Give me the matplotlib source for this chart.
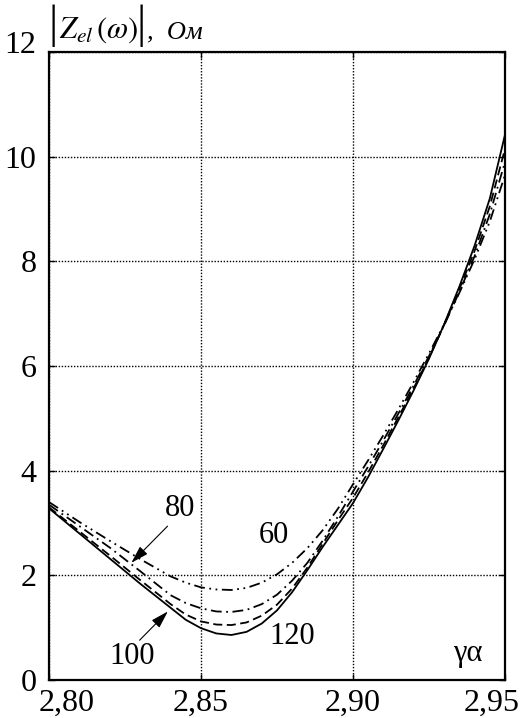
import matplotlib
matplotlib.use("Agg")
import matplotlib.pyplot as plt
from matplotlib.transforms import ScaledTranslation

plt.rcParams['font.family'] = ['Liberation Serif', 'DejaVu Serif']
plt.rcParams['mathtext.fontset'] = 'stix'

# ---- data ----
gamma_alpha = [2.800, 2.810, 2.820, 2.830, 2.840, 2.845, 2.850, 2.855, 2.860,
               2.865, 2.870, 2.875, 2.880, 2.885, 2.890, 2.895, 2.900, 2.905,
               2.910, 2.915, 2.920, 2.925, 2.930, 2.935, 2.940, 2.945, 2.950]
z_120 = [3.28, 2.80, 2.32, 1.84, 1.38, 1.15, 0.99, 0.89, 0.86, 0.92, 1.08, 1.33,
         1.68, 2.10, 2.54, 2.96, 3.38, 3.88, 4.42, 4.97, 5.54, 6.14, 6.80, 7.52,
         8.30, 9.20, 10.42]
z_100 = [3.30, 2.84, 2.38, 1.91, 1.45, 1.25, 1.12, 1.06, 1.05, 1.10, 1.23, 1.44,
         1.75, 2.15, 2.60, 3.05, 3.48, 3.97, 4.49, 5.03, 5.58, 6.16, 6.79, 7.47,
         8.20, 9.05, 10.15]
z_80 = [3.35, 2.94, 2.53, 2.08, 1.62, 1.47, 1.37, 1.31, 1.30, 1.34, 1.45, 1.63,
        1.90, 2.24, 2.66, 3.12, 3.60, 4.08, 4.58, 5.10, 5.63, 6.19, 6.78, 7.42,
        8.10, 8.90, 9.90]
z_60 = [3.40, 3.02, 2.66, 2.31, 1.98, 1.86, 1.77, 1.73, 1.72, 1.76, 1.86, 2.02,
        2.24, 2.52, 2.86, 3.27, 3.74, 4.20, 4.68, 5.18, 5.70, 6.24, 6.80, 7.40,
        8.04, 8.76, 9.65]

x_ticks = [2.80, 2.85, 2.90, 2.95]
x_ticklabels = ['2,80', '2,85', '2,90', '2,95']
y_ticks = [0, 2, 4, 6, 8, 10, 12]
y_ticklabels = ['0', '2', '4', '6', '8', '10', '12']

fig = plt.figure(figsize=(5.23, 7.18), dpi=100)
ax = fig.add_axes([49/523, 1-680/718, (505-49)/523, (680-52)/718])

lw = 1.3
ax.plot(gamma_alpha, z_60, color='black', lw=lw, linestyle=(0, (6, 2.5, 1, 2.5, 1, 2.5)))
ax.plot(gamma_alpha, z_80, color='black', lw=lw, linestyle=(0, (6, 2.5, 1, 2.5)))
ax.plot(gamma_alpha, z_100, color='black', lw=lw, linestyle=(0, (5, 2.5)))
ax.plot(gamma_alpha, z_120, color='black', lw=lw, linestyle='-')

ax.set_xlim(2.80, 2.95)
ax.set_ylim(0, 12)
ax.set_xticks(x_ticks)
ax.set_xticklabels(x_ticklabels)
ax.set_yticks(y_ticks)
ax.set_yticklabels(y_ticklabels)
ax.tick_params(direction='in', length=4, width=1, top=True, right=True,
               labelsize=23, colors='black')
ax.tick_params(axis='y', pad=9)
ax.tick_params(axis='x', pad=6)
ax.grid(True, color='black', linestyle=(0, (1, 1.2)), lw=1.0)
for s in ax.spines.values():
    s.set_linewidth(1.6)

# shift edge tick labels as in the original
xl = ax.get_xticklabels()
xl[0].set_transform(xl[0].get_transform() + ScaledTranslation(18/100, 0, fig.dpi_scale_trans))
xl[-1].set_transform(xl[-1].get_transform() + ScaledTranslation(-13/100, 0, fig.dpi_scale_trans))
yl = ax.get_yticklabels()
yl[-1].set_transform(yl[-1].get_transform() + ScaledTranslation(0, 10/100, fig.dpi_scale_trans))

# curve labels
fs = 22
ax.text(2.8430, 3.27, '80', fontsize=fs, ha='center', va='center')
ax.text(2.8741, 2.77, '60', fontsize=fs, ha='center', va='center')
ax.text(2.8800, 0.84, '120', fontsize=fs, ha='center', va='center')
ax.text(2.8272, 0.44, '100', fontsize=fs, ha='center', va='center')
ax.text(2.9377, 0.50, 'γα', fontsize=fs, ha='center', va='center')

arrow = dict(arrowstyle='-|>,head_length=0.6,head_width=0.18', lw=0.8,
             color='black', mutation_scale=18, shrinkA=0, shrinkB=0)
ax.annotate('', xy=(2.8271, 2.24), xytext=(2.8390, 2.94), arrowprops=arrow)
ax.annotate('', xy=(2.8391, 1.31), xytext=(2.8298, 0.76), arrowprops=arrow)

# axis title at top-left
base = 1 - 38/718
fig.text(49/523, 1-26/718, '|', fontsize=33, ha='left', va='center')
fig.text(59/523, base, r'$Z_{el}\,(\omega)$', fontsize=22, ha='left', va='baseline')
fig.text(137/523, 1-26/718, '|', fontsize=33, ha='left', va='center')
fig.text(147/523, base, ',  Ом', fontsize=19, style='italic',
         ha='left', va='baseline')

fig.savefig('out.png', dpi=100)
